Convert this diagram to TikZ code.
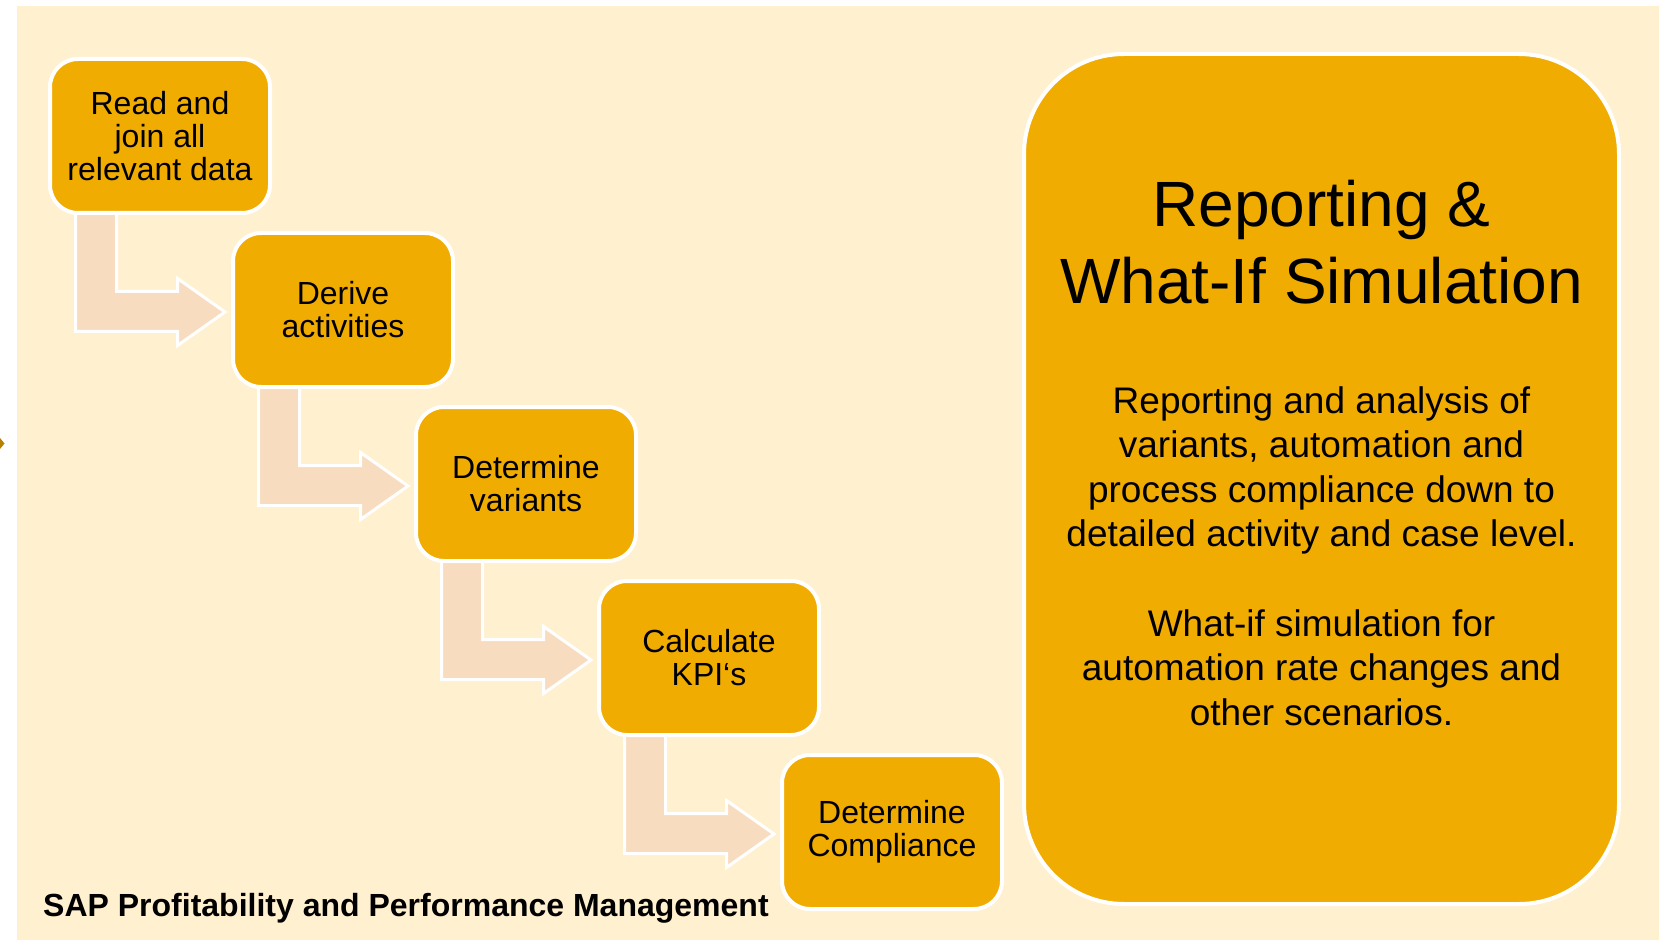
\documentclass[tikz,border=0pt]{standalone}
\usepackage{fontspec}
\setmainfont{Liberation Sans}
\usetikzlibrary{calc}
\definecolor{cream}{RGB}{255,240,208}
\definecolor{gold}{RGB}{240,172,0}
\definecolor{peach}{RGB}{248,220,192}
\definecolor{markgold}{RGB}{184,128,0}
\tikzset{
  stepbox/.style={draw=white, line width=4pt, fill=gold, rounded corners=28pt,
    minimum width=220pt, minimum height=154pt, outer sep=0pt, align=center,
    font=\fontsize{32}{33}\selectfont, inner sep=0pt},
  bentarrow/.style={draw=white, line width=3pt, fill=peach, line join=miter},
  bigbox/.style={draw=white, line width=4pt, fill=gold, rounded corners=100pt,
    minimum width=595pt, minimum height=850pt, outer sep=0pt},
  titletext/.style={align=center, font=\fontsize{64}{77}\selectfont, inner sep=0pt},
  bodytext/.style={align=center, font=\fontsize{37}{44.6}\selectfont, inner sep=0pt},
  foot/.style={anchor=west, font=\bfseries\fontsize{32}{36}\selectfont, inner sep=0pt}
}
\begin{document}
\begin{tikzpicture}[x=1pt,y=-1pt]
\useasboundingbox (0,0) rectangle (1668,941);
\fill[white] (0,0) rectangle (1668,941);
\fill[cream] (17,6) rectangle (1659,940);
\fill[markgold] (0,438) -- (4.5,443.5) -- (0,449) -- cycle;

% step boxes positions
\coordinate (p1) at (160,136);
\coordinate (p2) at (343,310);
\coordinate (p3) at (526,484);
\coordinate (p4) at (709,658);
\coordinate (p5) at (892,832);

% arrows (drawn first, under boxes)
\foreach \a/\b in {p1/p2,p2/p3,p3/p4,p4/p5}{
  \draw[bentarrow] ($(\a)+(-84.5,60)$) -- ($(\a)+(-84.5,195.5)$) -- ($(\a)+(17.5,195.5)$)
    -- ($(\a)+(17.5,209.5)$) -- ($(\b)+(-118,2)$) -- ($(\a)+(17.5,142.5)$)
    -- ($(\a)+(17.5,155.5)$) -- ($(\a)+(-43.5,155.5)$) -- ($(\a)+(-43.5,60)$) -- cycle;
}

\node[stepbox] (b1) at (p1) {Read and\\join all\\relevant data};
\node[stepbox] (b2) at (p2) {Derive\\activities};
\node[stepbox] (b3) at (p3) {Determine\\variants};
\node[stepbox] (b4) at (p4) {Calculate\\KPI‘s};
\node[stepbox] (b5) at (p5) {Determine\\Compliance};

\node[bigbox] (big) at (1321.5,479) {};
\node[titletext] (title) at (1321.5,242) {Reporting \&\\What-If Simulation};
\node[bodytext] (body) at (1321.5,556) {Reporting and analysis of\\variants, automation and\\process compliance down to\\detailed activity and case level.\\[44.6pt]What-if simulation for\\automation rate changes and\\other scenarios.};

\node[foot] (sap) at (43,908) {SAP Profitability and Performance Management};
\end{tikzpicture}
\end{document}
